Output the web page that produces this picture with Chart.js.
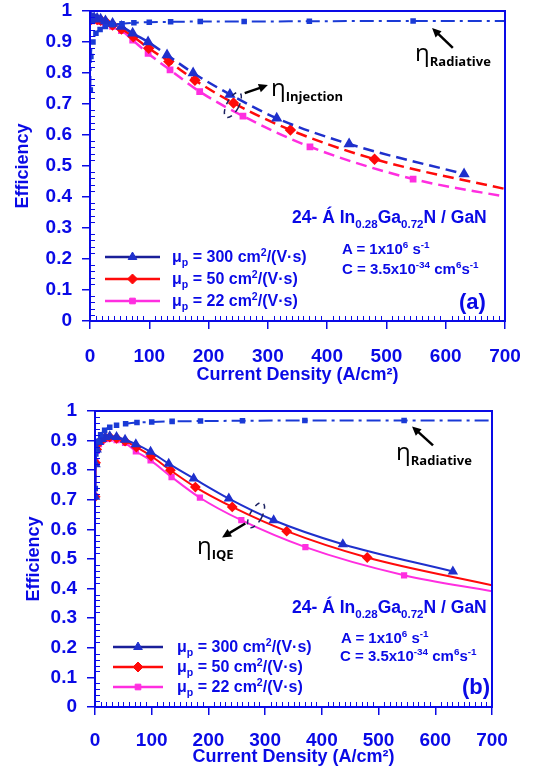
<!DOCTYPE html>
<html>
<head>
<meta charset="utf-8">
<script src="https://cdn.jsdelivr.net/npm/chart.js@4.4.0/dist/chart.umd.min.js"></script>
<style>
body{margin:0;background:#fff;}
#wrap{position:relative;width:540px;height:772px;font-family:Arial,"Liberation Sans",sans-serif;font-weight:bold;color:#0a0ae6;}
canvas{position:absolute;left:0;}
.t{position:absolute;white-space:nowrap;transform:translateY(-50%);line-height:1;}
.t sub,.t sup{font-size:66%;line-height:0;}
.eta{color:#000;font-family:"Open Sans",sans-serif;}
.eta .g{font-size:24px;font-weight:normal;}
.eta sub{font-size:13px;vertical-align:-5px;font-weight:bold;}
</style>
</head>
<body>
<div id="wrap">
  <canvas id="pa" width="540" height="390" style="top:0"></canvas>
  <canvas id="pb" width="540" height="382" style="top:390px"></canvas>

  <!-- panel (a) texts -->
  <div class="t eta" style="left:415px;top:52px"><span class="g">η</span><sub>Radiative</sub></div>
  <div class="t eta" style="left:271px;top:87px"><span class="g">η</span><sub>Injection</sub></div>
  <div class="t" style="left:292px;top:218px;font-size:17.5px">24- Á In<sub>0.28</sub>Ga<sub>0.72</sub>N / GaN</div>
  <div class="t" style="left:342px;top:248px;font-size:15px">A = 1x10<sup>6</sup> s<sup>-1</sup></div>
  <div class="t" style="left:342px;top:268px;font-size:15px">C = 3.5x10<sup>-34</sup> cm<sup>6</sup>s<sup>-1</sup></div>
  <div class="t" style="left:459px;top:302px;font-size:22px">(a)</div>
  <div class="t" style="left:172px;top:257px;font-size:16px">μ<sub>p</sub> = 300 cm<sup>2</sup>/(V·s)</div>
  <div class="t" style="left:172px;top:279px;font-size:16px">μ<sub>p</sub> = 50 cm<sup>2</sup>/(V·s)</div>
  <div class="t" style="left:172px;top:301px;font-size:16px">μ<sub>p</sub> = 22 cm<sup>2</sup>/(V·s)</div>

  <!-- panel (b) texts -->
  <div class="t eta" style="left:396px;top:451px"><span class="g">η</span><sub>Radiative</sub></div>
  <div class="t eta" style="left:197px;top:545px"><span class="g">η</span><sub>IQE</sub></div>
  <div class="t" style="left:292px;top:608px;font-size:17.5px">24- Á In<sub>0.28</sub>Ga<sub>0.72</sub>N / GaN</div>
  <div class="t" style="left:341px;top:637px;font-size:15px">A = 1x10<sup>6</sup> s<sup>-1</sup></div>
  <div class="t" style="left:340px;top:655px;font-size:15px">C = 3.5x10<sup>-34</sup> cm<sup>6</sup>s<sup>-1</sup></div>
  <div class="t" style="left:462px;top:687px;font-size:22px">(b)</div>
  <div class="t" style="left:177px;top:647px;font-size:16px">μ<sub>p</sub> = 300 cm<sup>2</sup>/(V·s)</div>
  <div class="t" style="left:177px;top:667px;font-size:16px">μ<sub>p</sub> = 50 cm<sup>2</sup>/(V·s)</div>
  <div class="t" style="left:177px;top:687px;font-size:16px">μ<sub>p</sub> = 22 cm<sup>2</sup>/(V·s)</div>
</div>
<script>
// current density (A/cm2) for the radiative curve, same in (a) and (b)
const jRad = [0.5, 1.5, 5, 10, 17, 26, 38, 54, 74, 100, 136, 186, 260, 370, 545, 700];
const radA = [0.745, 0.853, 0.900, 0.928, 0.940, 0.950, 0.956, 0.959, 0.962, 0.964, 0.965, 0.966, 0.966, 0.967, 0.968, 0.968];
const radB = [0.738, 0.855, 0.898, 0.920, 0.935, 0.945, 0.952, 0.957, 0.961, 0.963, 0.965, 0.966, 0.967, 0.968, 0.968, 0.968];

// mu_p = 300
const j300 = [0.3, 1, 3, 7, 12, 18, 26, 38, 53, 72, 98, 130, 174, 236, 315, 437, 631];
const inj300 = [0.972, 0.976, 0.978, 0.978, 0.976, 0.973, 0.968, 0.960, 0.950, 0.928, 0.900, 0.858, 0.800, 0.731, 0.654, 0.571, 0.474];
const iqe300 = [0.710, 0.820, 0.870, 0.895, 0.905, 0.912, 0.915, 0.912, 0.903, 0.888, 0.862, 0.822, 0.772, 0.704, 0.631, 0.550, 0.458];

// mu_p = 50
const j50 = [0.3, 1, 3, 7, 12, 18, 26, 38, 53, 73, 99, 133, 177, 242, 338, 480, 700];
const inj50 = [0.970, 0.974, 0.975, 0.975, 0.973, 0.970, 0.965, 0.955, 0.942, 0.917, 0.880, 0.837, 0.777, 0.703, 0.616, 0.522, 0.426];
const iqe50 = [0.710, 0.825, 0.870, 0.893, 0.903, 0.910, 0.912, 0.908, 0.898, 0.878, 0.848, 0.800, 0.743, 0.676, 0.594, 0.505, 0.411];

// mu_p = 22
const j22 = [0.3, 1, 3, 7, 12, 18, 26, 38, 53, 72, 98, 135, 185, 258, 371, 545, 700];
const inj22 = [0.968, 0.972, 0.973, 0.972, 0.970, 0.966, 0.960, 0.950, 0.937, 0.906, 0.863, 0.810, 0.740, 0.661, 0.562, 0.458, 0.401];
const iqe22 = [0.712, 0.830, 0.865, 0.888, 0.898, 0.905, 0.907, 0.902, 0.892, 0.864, 0.833, 0.777, 0.707, 0.631, 0.540, 0.445, 0.391];

const AXIS = '#0a0ae6';
const C300 = '#1f30cc', C50 = '#ff0a0a', C22 = '#ff2ee0', CRAD = '#1a3ad6';

Chart.defaults.font.family = 'Arial, "Liberation Sans", sans-serif';

function pts(xs, ys) { return xs.map((x, i) => ({x: x, y: ys[i]})); }
function radii(xs, r) { return xs.map(x => x >= 700 ? 0 : r); } // no marker on the end point

function curves(ys1, ys2, ys3, rad, dash) {
  const lw = dash ? 2.5 : 2, bd = dash ? [11, 6] : [];
  return [
    {label: 'rad', data: pts(jRad, rad), borderColor: CRAD, backgroundColor: CRAD, borderWidth: 2,
     borderDash: [14, 5, 3, 5], pointStyle: 'rect', pointRadius: radii(jRad, 2.5)},
    {label: '300', data: pts(j300, ys1), borderColor: C300, backgroundColor: C300, borderWidth: lw,
     borderDash: bd, pointStyle: 'triangle', pointRadius: radii(j300, 4)},
    {label: '50', data: pts(j50, ys2), borderColor: C50, backgroundColor: C50, borderWidth: lw,
     borderDash: bd, pointStyle: 'rectRot', pointRadius: radii(j50, 4)},
    {label: '22', data: pts(j22, ys3), borderColor: C22, backgroundColor: C22, borderWidth: lw,
     borderDash: bd, pointStyle: 'rect', pointRadius: radii(j22, 3)}
  ];
}

// frame, minor ticks, legend samples, arrows and the dashed ellipse
const decor = {
  id: 'decor',
  afterDatasetsDraw(chart, args, o) {
    const ctx = chart.ctx, a = chart.chartArea, sx = chart.scales.x, sy = chart.scales.y;
    ctx.save();
    ctx.strokeStyle = AXIS;
    ctx.lineWidth = 2;
    ctx.strokeRect(a.left, a.top, a.right - a.left, a.bottom - a.top);
    ctx.lineWidth = 1;
    ctx.beginPath();
    for (let v = 10; v < 700; v += 10) {
      if (v % 100 === 0) continue;
      const px = Math.round(sx.getPixelForValue(v)) + 0.5;
      ctx.moveTo(px, a.bottom); ctx.lineTo(px, a.bottom - 5);
    }
    for (let k = 1; k < 50; k++) {
      if (k % 5 === 0) continue;
      const py = Math.round(sy.getPixelForValue(k / 50)) + 0.5;
      ctx.moveTo(a.left, py); ctx.lineTo(a.left + 5, py);
    }
    ctx.stroke();

    // legend samples
    const L = o.legend;
    chart.data.datasets.slice(1).forEach((ds, i) => {
      const yy = L.ys[i];
      ctx.strokeStyle = i === 0 ? '#1a1f99' : ds.borderColor;
      ctx.fillStyle = ds.backgroundColor;
      ctx.lineWidth = 2.5;
      ctx.setLineDash([]);
      ctx.beginPath(); ctx.moveTo(L.x0, yy); ctx.lineTo(L.x1, yy); ctx.stroke();
      ctx.strokeStyle = ds.borderColor;
      ctx.lineWidth = 1;
      Chart.helpers.drawPoint(ctx, {pointStyle: ds.pointStyle, radius: ds.pointStyle === 'rect' ? 4 : 5, rotation: 0, borderWidth: 1},
        (L.x0 + L.x1) / 2, yy);
    });

    // arrows
    ctx.strokeStyle = '#000'; ctx.fillStyle = '#000'; ctx.lineWidth = 2.5;
    o.arrows.forEach(ar => {
      const x0 = sx.getPixelForValue(ar.from[0]), y0 = sy.getPixelForValue(ar.from[1]);
      const x1 = sx.getPixelForValue(ar.to[0]), y1 = sy.getPixelForValue(ar.to[1]);
      const ang = Math.atan2(y1 - y0, x1 - x0);
      ctx.beginPath();
      ctx.moveTo(x0, y0);
      ctx.lineTo(x1 - 6 * Math.cos(ang), y1 - 6 * Math.sin(ang));
      ctx.stroke();
      ctx.beginPath();
      ctx.moveTo(x1, y1);
      ctx.lineTo(x1 - 10 * Math.cos(ang - 0.45), y1 - 10 * Math.sin(ang - 0.45));
      ctx.lineTo(x1 - 10 * Math.cos(ang + 0.45), y1 - 10 * Math.sin(ang + 0.45));
      ctx.closePath(); ctx.fill();
    });

    // dashed ellipse round the curves
    const e = o.ellipse;
    ctx.strokeStyle = '#1a2060'; ctx.lineWidth = 1.5; ctx.setLineDash([5, 5]);
    ctx.beginPath();
    ctx.ellipse(sx.getPixelForValue(e.at[0]), sy.getPixelForValue(e.at[1]), 6, 14, 0.5, 0, Math.PI * 2);
    ctx.stroke();
    ctx.restore();
  }
};

function panel(id, datasets, p) {
  return new Chart(document.getElementById(id).getContext('2d'), {
    type: 'scatter',
    data: {datasets: datasets},
    options: {
      responsive: false,
      animation: false,
      showLine: true,
      elements: {line: {cubicInterpolationMode: 'monotone', fill: false}, point: {borderWidth: 1}},
      layout: {padding: p.padding},
      plugins: {
        legend: {display: false},
        tooltip: {enabled: false},
        decor: {legend: p.legend, arrows: p.arrows, ellipse: p.ellipse}
      },
      scales: {
        x: {
          type: 'linear', min: 0, max: 700,
          afterFit: s => { s.height = p.xh; },
          ticks: {stepSize: 100, color: AXIS, padding: p.xpad, font: {size: 19, weight: 'bold'}},
          grid: {drawOnChartArea: false, color: AXIS, tickLength: 8, lineWidth: 1.5},
          border: {color: AXIS, width: 2},
          title: {display: true, text: 'Current Density (A/cm²)', color: AXIS, font: {size: 18, weight: 'bold'}}
        },
        y: {
          min: 0, max: 1,
          afterFit: s => { s.width = p.yw; s.paddingTop = 0; s.paddingBottom = 0; },
          ticks: {stepSize: 0.1, color: AXIS, padding: 10, font: {size: 19, weight: 'bold'},
                  callback: v => String(+v.toFixed(1))},
          grid: {drawOnChartArea: false, color: AXIS, tickLength: 8, lineWidth: 1.5},
          border: {color: AXIS, width: 2},
          title: {display: true, text: 'Efficiency', color: AXIS, font: {size: 18, weight: 'bold'}}
        }
      }
    },
    plugins: [decor]
  });
}

panel('pa', curves(inj300, inj50, inj22, radA, true), {
  padding: {left: 8, right: 35, top: 11, bottom: 0}, yw: 82, xh: 69, xpad: 16,
  legend: {x0: 105, x1: 160, ys: [257, 279, 301]},
  arrows: [{from: [612, 0.881], to: [577, 0.945]}, {from: [261, 0.735], to: [300, 0.761]}],
  ellipse: {at: [241, 0.697]}
});

panel('pb', curves(iqe300, iqe50, iqe22, radB, false), {
  padding: {left: 19, right: 48, top: 21, bottom: 0}, yw: 76, xh: 65, xpad: 14,
  legend: {x0: 113, x1: 163, ys: [257, 277, 297]},
  arrows: [{from: [596, 0.884], to: [559, 0.948]}, {from: [265, 0.62], to: [224, 0.573]}],
  ellipse: {at: [284, 0.648]}
});
</script>
</body>
</html>
